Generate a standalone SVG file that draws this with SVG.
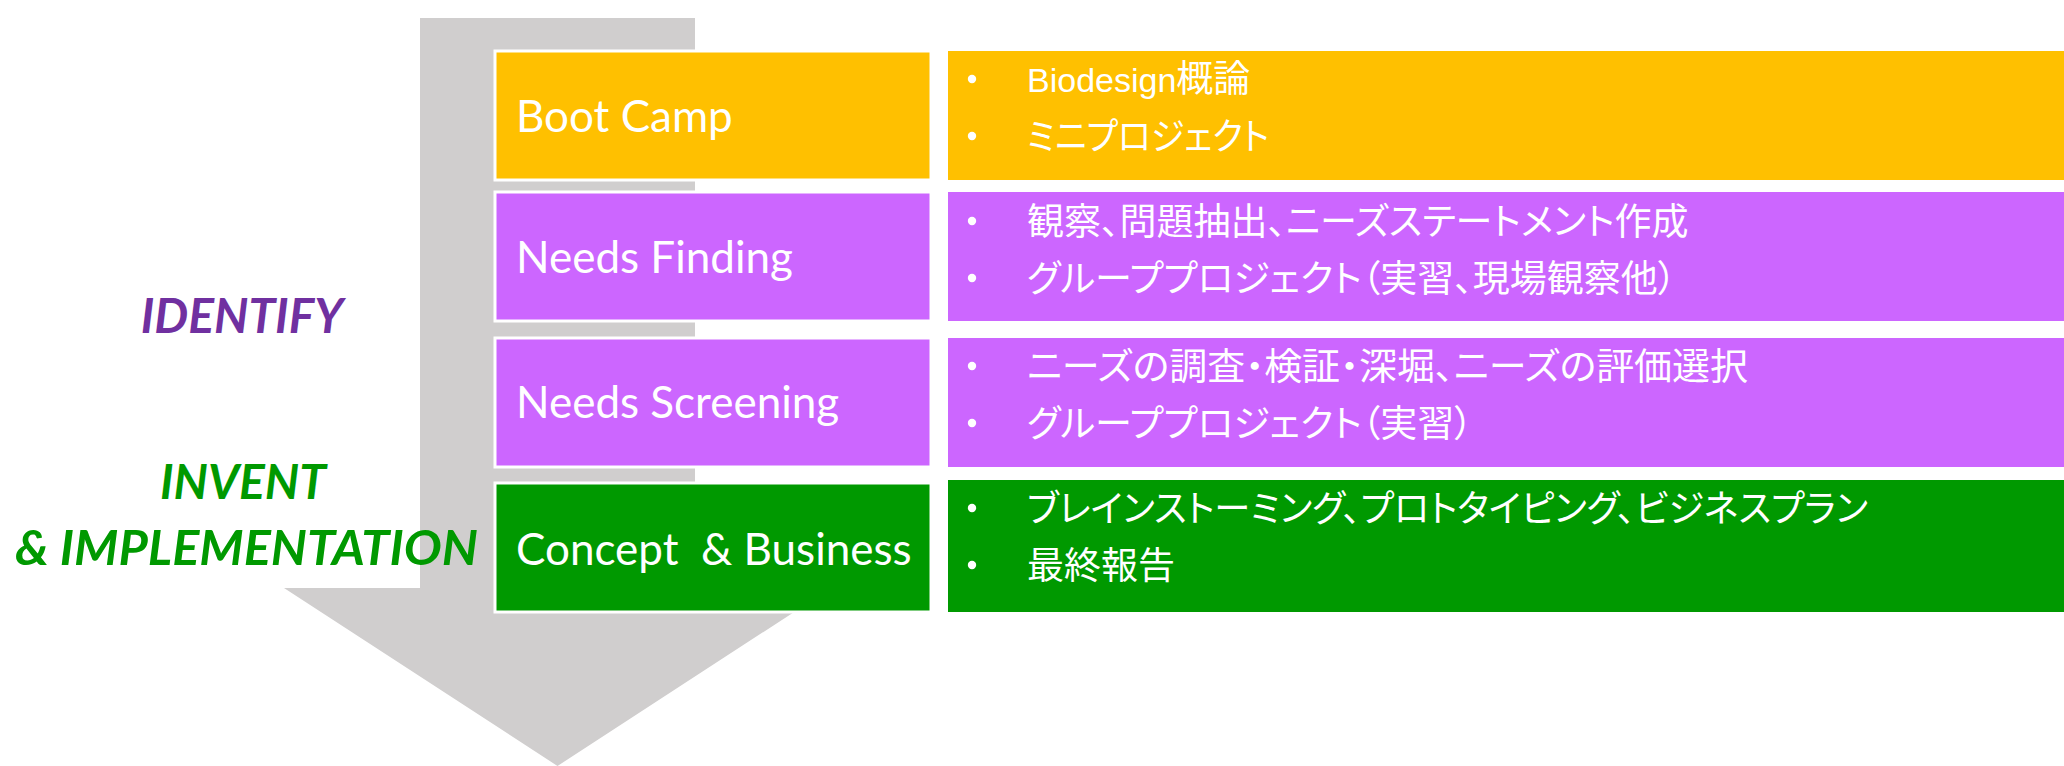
<svg xmlns="http://www.w3.org/2000/svg" width="2064" height="766" viewBox="0 0 2064 766">
<style>
.lbox{stroke:#FFFFFF;stroke-width:3}
.rbox{stroke:none}
.ltxt{font-family:Lato,"Open Sans","Liberation Sans",sans-serif;font-size:44px;fill:#FFFFFF;white-space:pre}
.jtxt{font-family:"Liberation Sans","Noto Sans CJK JP",sans-serif;font-size:37px;fill:#FFFFFF;font-feature-settings:"palt"}
.lat{font-size:34px}
.phase{font-family:Lato,"Open Sans","Liberation Sans",sans-serif;font-size:48px;font-weight:bold;font-style:italic;text-anchor:middle}
.dot{fill:#FFFFFF}
.orange{fill:#FFC000}
.purple{fill:#CC66FF}
.green{fill:#009900}
</style>
<rect width="2064" height="766" fill="#FFFFFF"/>
<g id="connectors">
<path d="M420,18 H695 V588 H831 L557.5,766 L284,588 H420 Z" fill="#D0CECE"/>
</g>
<g id="phase-identify">
<text class="phase" x="242" y="333" fill="#7030A0">IDENTIFY</text>
</g>
<g id="phase-invent">
<text class="phase" x="243" y="499" fill="#009900">INVENT</text>
<text class="phase" x="15" y="565" fill="#009900" style="text-anchor:start" textLength="463" lengthAdjust="spacingAndGlyphs">&amp; IMPLEMENTATION</text>
</g>
<g id="boot-camp">
<rect class="lbox orange" x="495" y="51" width="436" height="129"/>
<text class="ltxt" x="516" y="132">Boot Camp</text>
</g>
<g id="boot-camp-detail">
<rect class="rbox orange" x="948" y="51" width="1116" height="129"/>
<circle class="dot" cx="972" cy="79" r="4.2"/>
<circle class="dot" cx="972" cy="136" r="4.2"/>
<text class="jtxt" x="1027" y="92"><tspan class="lat">Biodesign</tspan>概論</text>
<text class="jtxt" x="1027" y="150" textLength="242" lengthAdjust="spacingAndGlyphs">ミニプロジェクト</text>
</g>
<g id="needs-finding">
<rect class="lbox purple" x="495" y="192" width="436" height="129"/>
<text class="ltxt" x="516" y="273">Needs Finding</text>
</g>
<g id="needs-finding-detail">
<rect class="rbox purple" x="948" y="192" width="1116" height="129"/>
<circle class="dot" cx="972" cy="221" r="4.2"/>
<circle class="dot" cx="972" cy="278" r="4.2"/>
<text class="jtxt" x="1027" y="235">観察、問題抽出、ニーズステートメント作成</text>
<text class="jtxt" x="1027" y="292">グループプロジェクト（実習、現場観察他）</text>
</g>
<g id="needs-screening">
<rect class="lbox purple" x="495" y="338" width="436" height="129"/>
<text class="ltxt" x="516" y="418">Needs Screening</text>
</g>
<g id="needs-screening-detail">
<rect class="rbox purple" x="948" y="338" width="1116" height="129"/>
<circle class="dot" cx="972" cy="366" r="4.2"/>
<circle class="dot" cx="972" cy="423" r="4.2"/>
<text class="jtxt" x="1027" y="380" textLength="721" lengthAdjust="spacingAndGlyphs">ニーズの調査・検証・深堀、ニーズの評価選択</text>
<text class="jtxt" x="1027" y="437">グループプロジェクト（実習）</text>
</g>
<g id="concept-business">
<rect class="lbox green" x="495" y="483" width="436" height="129"/>
<text class="ltxt" x="516" y="565">Concept  &amp; Business</text>
</g>
<g id="concept-business-detail">
<rect class="rbox green" x="948" y="480" width="1116" height="132"/>
<circle class="dot" cx="972" cy="508" r="4.2"/>
<circle class="dot" cx="972" cy="565" r="4.2"/>
<text class="jtxt" x="1027" y="522" textLength="841" lengthAdjust="spacingAndGlyphs">ブレインストーミング、プロトタイピング、ビジネスプラン</text>
<text class="jtxt" x="1027" y="579">最終報告</text>
</g>
</svg>
